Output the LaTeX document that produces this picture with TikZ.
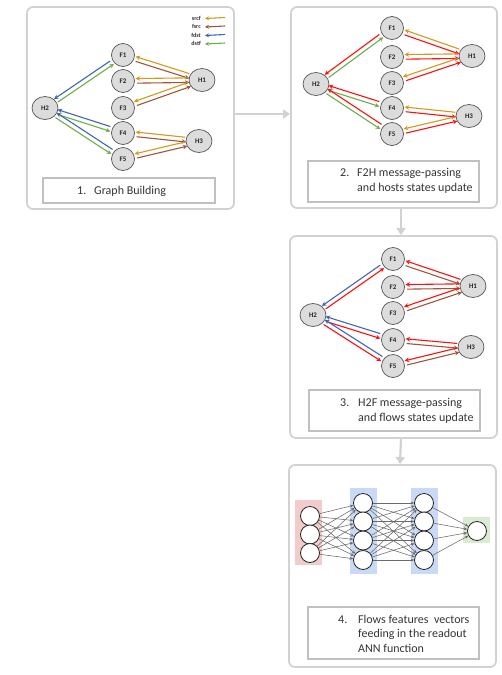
\documentclass[tikz,border=0pt]{standalone}
\usepackage{fontspec}
\setmainfont{Carlito}
\usetikzlibrary{arrows.meta,calc,shapes.geometric}
\definecolor{srcfC}{HTML}{D39B1C}
\definecolor{fsrcC}{HTML}{A0563A}
\definecolor{fdstC}{HTML}{3F66B3}
\definecolor{dstfC}{HTML}{70AD47}
\definecolor{redC}{HTML}{FF1010}
\definecolor{panelC}{HTML}{D2D2D2}
\definecolor{boxC}{HTML}{C0C0C0}
\definecolor{nodeFill}{HTML}{DCDCDC}
\definecolor{nodeLine}{HTML}{555555}
\definecolor{txtC}{HTML}{353535}
\definecolor{pinkC}{HTML}{F2CBCB}
\definecolor{blueL}{HTML}{C9DAF6}
\definecolor{greenL}{HTML}{D9EBD3}
\definecolor{nnEdge}{HTML}{6A6A6A}
\newcommand\parr[3]{\draw[edge,#1] ($(#2)!2.3pt!-90:(#3)$) -- ($(#3)!2.3pt!90:(#2)$);}
\tikzset{
  panel/.style={draw=panelC, line width=1.8pt, rounded corners=6pt, fill=white, inner sep=0pt},
  tbox/.style={draw=boxC, line width=1.3pt, fill=white, inner sep=0pt},
  fn/.style={circle, draw=nodeLine, fill=nodeFill, line width=0.7pt, minimum size=23pt, inner sep=0pt, font=\fontsize{7}{8}\selectfont\bfseries, text=black!85},
  hn/.style={ellipse, draw=nodeLine, fill=nodeFill, line width=0.7pt, minimum width=26pt, minimum height=23pt, inner sep=0pt, font=\fontsize{7}{8}\selectfont\bfseries, text=black!85},
  edge/.style={line width=1.1pt, shorten <=14pt, shorten >=12.5pt, -{Stealth[length=4.5pt,width=4.5pt]}},
  lgarrow/.style={line width=1.1pt, -{Stealth[length=4pt,width=4pt]}},
  lgtext/.style={anchor=east, inner sep=0pt, font=\fontsize{6}{7}\selectfont\bfseries, text=black!80},
  flow/.style={draw=panelC, line width=2.2pt, -{Triangle[length=7pt,width=9pt]}},
  ptext/.style={anchor=west, inner sep=0pt, align=left, text=txtC},
  nn/.style={circle, draw=black!85, fill=white, line width=0.8pt, minimum size=19pt, inner sep=0pt},
  nnedge/.style={draw=nnEdge, line width=0.55pt, -{Stealth[length=3.5pt,width=3pt]}},
}
\begin{document}
\begin{tikzpicture}[x=1pt,y=-1pt]
\useasboundingbox (0,0) rectangle (502,675);

% panels
\node[panel, minimum width=207pt, minimum height=202pt] (P1) at (130.5,108) {};
\node[panel, minimum width=206pt, minimum height=201pt] (P2) at (394,107.5) {};
\node[panel, minimum width=207pt, minimum height=202pt] (P3) at (393.5,337) {};
\node[panel, minimum width=207pt, minimum height=202pt] (P4) at (392.5,566) {};

\draw[flow] ([yshift=-6pt]P1.east) -- ([yshift=-6.5pt]P2.west);
\draw[flow] ([xshift=7pt]P2.south) -- ([xshift=7.5pt]P3.north);
\draw[flow] ([xshift=7.5pt]P3.south) -- ([xshift=7.5pt]P4.north);

% ---------------- Panel 1 ----------------
\node[lgtext] (lg1) at (201,18) {srcf};
\node[lgtext] (lg2) at (201,26.5) {fsrc};
\node[lgtext] (lg3) at (201,35) {fdst};
\node[lgtext] (lg4) at (201,43.5) {dstf};
\coordinate (ls1) at (225,17.5); \coordinate (le1) at (205,18.5);
\coordinate (ls2) at (225,26); \coordinate (le2) at (205,27);
\coordinate (ls3) at (225,34.5); \coordinate (le3) at (205,35.5);
\coordinate (ls4) at (225,43); \coordinate (le4) at (205,44);
\draw[lgarrow,srcfC] (ls1) -- (le1);
\draw[lgarrow,fsrcC] (ls2) -- (le2);
\draw[lgarrow,fdstC] (ls3) -- (le3);
\draw[lgarrow,dstfC] (ls4) -- (le4);

\node[fn] (aF1) at (123,55) {F1};
\node[fn] (aF2) at (123,81) {F2};
\node[fn] (aF3) at (123,108) {F3};
\node[fn] (aF4) at (123,133) {F4};
\node[fn] (aF5) at (123,159) {F5};
\node[hn] (aH1) at (202,80) {H1};
\node[hn] (aH2) at (45,108) {H2};
\node[hn] (aH3) at (199,141) {H3};

\parr{fdstC}{aF1}{aH2} \parr{dstfC}{aH2}{aF1}
\parr{fdstC}{aF4}{aH2} \parr{dstfC}{aH2}{aF4}
\parr{fdstC}{aF5}{aH2} \parr{dstfC}{aH2}{aF5}
\parr{srcfC}{aH1}{aF1} \parr{fsrcC}{aF1}{aH1}
\parr{srcfC}{aH1}{aF2} \parr{fsrcC}{aF2}{aH1}
\parr{srcfC}{aH1}{aF3} \parr{fsrcC}{aF3}{aH1}
\parr{srcfC}{aH3}{aF4} \parr{fsrcC}{aF4}{aH3}
\parr{srcfC}{aH3}{aF5} \parr{fsrcC}{aF5}{aH3}

\node[tbox, minimum width=172pt, minimum height=25pt] (T1) at (129,190.5) {};
\node[ptext, font=\fontsize{12}{15}\selectfont] (t1) at (77,191.5) {\makebox[17pt][l]{1.}Graph Building};

% ---------------- Panel 2 ----------------
\node[fn] (bF1) at (392,28) {F1};
\node[fn] (bF2) at (392,57) {F2};
\node[fn] (bF3) at (392,83) {F3};
\node[fn] (bF4) at (392,108) {F4};
\node[fn] (bF5) at (392,134) {F5};
\node[hn] (bH1) at (472,56) {H1};
\node[hn] (bH2) at (316,84) {H2};
\node[hn] (bH3) at (469,116) {H3};

\parr{redC}{bF1}{bH2} \parr{dstfC}{bH2}{bF1}
\parr{redC}{bF4}{bH2} \parr{dstfC}{bH2}{bF4}
\parr{redC}{bF5}{bH2} \parr{dstfC}{bH2}{bF5}
\parr{srcfC}{bH1}{bF1} \parr{redC}{bF1}{bH1}
\parr{srcfC}{bH1}{bF2} \parr{redC}{bF2}{bH1}
\parr{srcfC}{bH1}{bF3} \parr{redC}{bF3}{bH1}
\parr{srcfC}{bH3}{bF4} \parr{redC}{bF4}{bH3}
\parr{srcfC}{bH3}{bF5} \parr{redC}{bF5}{bH3}

\node[tbox, minimum width=171pt, minimum height=41pt] (T2) at (393.5,181.5) {};
\node[ptext, font=\fontsize{12}{15}\selectfont] (t2) at (340,181) {\makebox[17pt][l]{2.}F2H message-passing\\\hspace*{17pt}and hosts states update};

% ---------------- Panel 3 ----------------
\node[fn] (cF1) at (393,259) {F1};
\node[fn] (cF2) at (393,287) {F2};
\node[fn] (cF3) at (393,313) {F3};
\node[fn] (cF4) at (393,340) {F4};
\node[fn] (cF5) at (393,366) {F5};
\node[hn] (cH1) at (473,286) {H1};
\node[hn] (cH2) at (313,315) {H2};
\node[hn] (cH3) at (471,347) {H3};

\parr{fdstC}{cF1}{cH2} \parr{redC}{cH2}{cF1}
\parr{fdstC}{cF4}{cH2} \parr{redC}{cH2}{cF4}
\parr{fdstC}{cF5}{cH2} \parr{redC}{cH2}{cF5}
\parr{redC}{cH1}{cF1} \parr{fsrcC}{cF1}{cH1}
\parr{redC}{cH1}{cF2} \parr{fsrcC}{cF2}{cH1}
\parr{redC}{cH1}{cF3} \parr{fsrcC}{cF3}{cH1}
\parr{redC}{cH3}{cF4} \parr{fsrcC}{cF4}{cH3}
\parr{redC}{cH3}{cF5} \parr{fsrcC}{cF5}{cH3}

\node[tbox, minimum width=171pt, minimum height=41pt] (T3) at (394.5,410.5) {};
\node[ptext, font=\fontsize{12}{15}\selectfont] (t3) at (340,411) {\makebox[18pt][l]{3.}H2F message-passing\\\hspace*{18pt}and flows states update};

% ---------------- Panel 4 ----------------
\fill[pinkC] (295,500) rectangle (322,565);
\fill[blueL] (350,488) rectangle (377,574);
\fill[blueL] (411,488) rectangle (438,574);
\fill[greenL] (463,517) rectangle (490,543);

\node[nn] (i1) at (310,516) {};
\node[nn] (i2) at (310,534.5) {};
\node[nn] (i3) at (310,553) {};
\node[nn] (h1) at (363,503) {};
\node[nn] (h2) at (363,521.5) {};
\node[nn] (h3) at (363,540.5) {};
\node[nn] (h4) at (363,560) {};
\node[nn] (g1) at (424,503) {};
\node[nn] (g2) at (424,521.5) {};
\node[nn] (g3) at (424,540.5) {};
\node[nn] (g4) at (424,560) {};
\node[nn] (o1) at (477,531) {};

\foreach \a in {1,2,3} \foreach \b in {1,2,3,4} \draw[nnedge] (i\a) -- (h\b);
\foreach \a in {1,2,3,4} \foreach \b in {1,2,3,4} \draw[nnedge] (h\a) -- (g\b);
\foreach \a in {1,2,3,4} \draw[nnedge] (g\a) -- (o1);

\node[tbox, minimum width=171pt, minimum height=52pt] (T4) at (393.5,633) {};
\node[ptext, font=\fontsize{12}{14.5}\selectfont] (t4) at (338,633.5) {\makebox[20pt][l]{4.}Flows features\ \ vectors\\\hspace*{20pt}feeding in the readout\\\hspace*{20pt}ANN function};
\end{tikzpicture}
\end{document}
